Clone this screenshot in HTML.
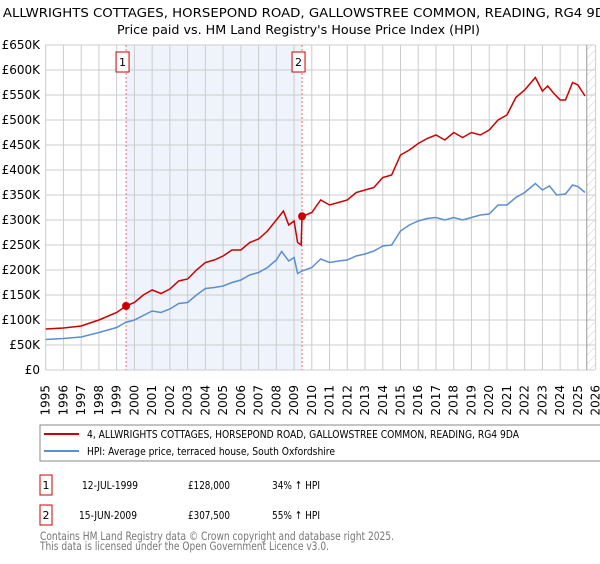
<!DOCTYPE html>
<html><head><meta charset="utf-8"><style>
body{margin:0;background:#fff;width:600px;height:560px;overflow:hidden;font-family:"DejaVu Sans","Liberation Sans",sans-serif}
svg text{font-family:"DejaVu Sans","Liberation Sans",sans-serif}
</style></head><body>
<svg id="c" width="600" height="560" viewBox="0 0 600 560">
<defs><pattern id="hatch" width="6" height="6" patternUnits="userSpaceOnUse" patternTransform="rotate(45)"><line x1="0" y1="0" x2="0" y2="6" stroke="#ccc" stroke-width="1"/></pattern></defs>
<text x="-14" y="17" font-size="12.7" textLength="628" lengthAdjust="spacingAndGlyphs">4, ALLWRIGHTS COTTAGES, HORSEPOND ROAD, GALLOWSTREE COMMON, READING, RG4 9DA</text>
<text x="117" y="34" font-size="12.7" textLength="363" lengthAdjust="spacingAndGlyphs">Price paid vs. HM Land Registry's House Price Index (HPI)</text>
<g id="grid"></g><g id="marks"></g>
<rect x="40" y="425" width="570" height="36" fill="#fff" stroke="#888"/>
<line x1="44" y1="434" x2="79" y2="434" stroke="#cc0000" stroke-width="2"/>
<text x="87" y="438" font-size="11" textLength="432" lengthAdjust="spacingAndGlyphs">4, ALLWRIGHTS COTTAGES, HORSEPOND ROAD, GALLOWSTREE COMMON, READING, RG4 9DA</text>
<line x1="44" y1="451" x2="79" y2="451" stroke="#5b8fd0" stroke-width="2"/>
<text x="87" y="455" font-size="11" textLength="248" lengthAdjust="spacingAndGlyphs">HPI: Average price, terraced house, South Oxfordshire</text>
<g font-size="11">
<rect x="40" y="475" width="12" height="20" fill="#fff" stroke="#cc0000"/><text x="46" y="489" text-anchor="middle">1</text>
<text x="82" y="489" textLength="56" lengthAdjust="spacingAndGlyphs">12-JUL-1999</text><text x="188" y="489" textLength="42" lengthAdjust="spacingAndGlyphs">£128,000</text><text x="272" y="489" textLength="48" lengthAdjust="spacingAndGlyphs">34% ↑ HPI</text></g>
<g font-size="11">
<rect x="40" y="505" width="12" height="20" fill="#fff" stroke="#cc0000"/><text x="46" y="519" text-anchor="middle">2</text>
<text x="79" y="519" textLength="58" lengthAdjust="spacingAndGlyphs">15-JUN-2009</text><text x="188" y="519" textLength="42" lengthAdjust="spacingAndGlyphs">£307,500</text><text x="272" y="519" textLength="48" lengthAdjust="spacingAndGlyphs">55% ↑ HPI</text></g>
<text x="40" y="540" font-size="11.5" fill="#777" textLength="354" lengthAdjust="spacingAndGlyphs">Contains HM Land Registry data © Crown copyright and database right 2025.</text>
<text x="40" y="550" font-size="11.5" fill="#777" textLength="289" lengthAdjust="spacingAndGlyphs">This data is licensed under the Open Government Licence v3.0.</text>
</svg>
<script>
const yTicks=[0,50,100,150,200,250,300,350,400,450,500,550,600,650];
const years=[1995,1996,1997,1998,1999,2000,2001,2002,2003,2004,2005,2006,2007,2008,2009,2010,2011,2012,2013,2014,2015,2016,2017,2018,2019,2020,2021,2022,2023,2024,2025,2026];
const propT=[1995,1996,1997,1998,1999,1999.53,2000,2000.5,2001,2001.5,2002,2002.5,2003,2003.5,2004,2004.5,2005,2005.5,2006,2006.5,2007,2007.5,2008,2008.4,2008.7,2009,2009.2,2009.4,2009.45,2010,2010.5,2011,2011.5,2012,2012.5,2013,2013.5,2014,2014.5,2015,2015.5,2016,2016.5,2017,2017.5,2018,2018.5,2019,2019.5,2020,2020.5,2021,2021.5,2022,2022.6,2023,2023.3,2023.6,2024,2024.3,2024.7,2025,2025.4];
const propV=[82,84,88,100,115,128,135,150,160,153,162,178,182,200,215,220,228,240,240,255,262,278,300,318,290,298,255,250,307,315,340,330,335,340,355,360,365,385,390,430,440,453,463,470,460,475,465,475,470,480,500,510,545,560,585,558,568,555,540,540,575,570,548];
const hpiT=[1995,1996,1997,1998,1999,1999.5,2000,2001,2001.5,2002,2002.5,2003,2003.5,2004,2004.5,2005,2005.5,2006,2006.5,2007,2007.5,2008,2008.3,2008.7,2009,2009.2,2009.45,2010,2010.5,2011,2011.5,2012,2012.5,2013,2013.5,2014,2014.5,2015,2015.5,2016,2016.5,2017,2017.5,2018,2018.5,2019,2019.5,2020,2020.5,2021,2021.5,2022,2022.6,2023,2023.4,2023.8,2024.3,2024.7,2025,2025.4];
const hpiV=[61,63,66,75,85,95,100,118,115,122,133,135,150,163,165,168,175,180,190,195,205,220,237,218,225,193,198,205,222,215,218,220,228,232,238,248,250,278,290,298,303,305,300,305,300,305,310,312,330,330,345,355,373,360,368,350,352,370,367,355];
const saleT=[1999.53,2009.45];
const saleV=[128,307.5];
const X0=45.7,PX=17.74,Y0=370,PY=0.5,R=595;
const x=t=>X0+(t-1995)*PX, y=v=>Y0-v*PY;
const NS='http://www.w3.org/2000/svg';
function mk(tag,attrs,parent){const e=document.createElementNS(NS,tag);for(const k in attrs)e.setAttribute(k,attrs[k]);parent.appendChild(e);return e;}
const g=document.getElementById('grid'),m=document.getElementById('marks');
let sh=mk('rect',{x:x(saleT[0]),y:y(650),width:x(saleT[1])-x(saleT[0]),height:y(0)-y(650),fill:'#eef3fc'},g);


let ht=mk('rect',{x:x(2025.5),y:y(650),width:R-x(2025.5),height:y(0)-y(650),fill:'url(#hatch)'},g);


yTicks.forEach(v=>{
 let l=mk('line',{x1:X0,x2:R,y1:y(v),y2:y(v),stroke:'#ccc'},g);
 
 
 let t=mk('text',{x:40,y:y(v)+4,'text-anchor':'end','font-size':12},g);t.textContent=v?'£'+v+'K':'£0';
 
 
});
years.forEach(yr=>{
 let l=mk('line',{x1:x(yr),x2:x(yr),y1:y(650),y2:y(0),stroke:'#ccc'},g);
 
 
 let t=mk('text',{x:x(yr)+4,y:385,'text-anchor':'end','font-size':12,transform:`rotate(-90 ${x(yr)+4} 385)`},g);
 t.textContent=yr;
 
 
});
let vl=mk('line',{x1:x(2025.5),x2:x(2025.5),y1:y(650),y2:y(0),stroke:'#999'},g);


saleT.forEach((t,i)=>{
 let l=mk('line',{x1:x(t),x2:x(t),y1:y(650),y2:y(0),stroke:'#f07070','stroke-dasharray':'2,2'},m);
 
 
 let b=mk('rect',{x:x(t)-10,y:52,width:13,height:20,fill:'#fff',stroke:'#cc0000'},m);
 
 
 let tx=mk('text',{x:x(t)-3.5,y:66,'text-anchor':'middle','font-size':11},m);tx.textContent=i+1;
 
 
});
let hp=mk('polyline',{points:hpiT.map((t,i)=>x(t)+','+y(hpiV[i])).join(' '),fill:'none',stroke:'#5b8fd0','stroke-width':1.5},m);


let pp=mk('polyline',{points:propT.map((t,i)=>x(t)+','+y(propV[i])).join(' '),fill:'none',stroke:'#cc0000','stroke-width':1.5},m);


saleT.forEach((t,i)=>{
 let c=mk('circle',{cx:x(t),cy:y(saleV[i]),r:4,fill:'#cc0000'},m);
 
 
});
</script>
</body></html>
